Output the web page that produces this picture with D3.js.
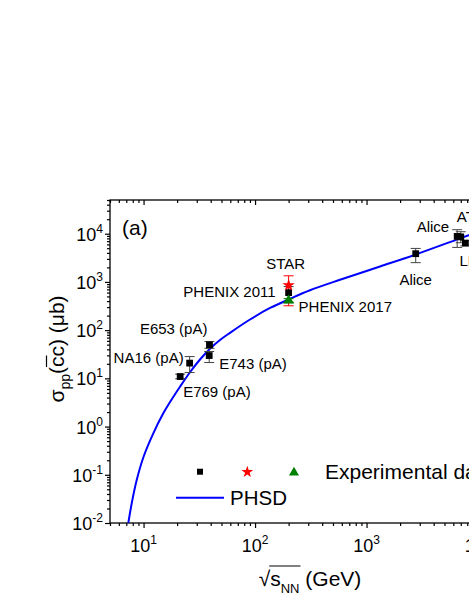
<!DOCTYPE html>
<html>
<head>
<meta charset="utf-8">
<script src="https://cdn.jsdelivr.net/npm/d3@7/dist/d3.min.js"></script>
<style>
    body { margin: 0; background: #fff; }
    svg { display: block; font-family: Arial, "Liberation Sans", Helvetica, sans-serif; }
</style>
</head>
<body>
<svg id="chart" width="469" height="607"></svg>
<script>
// black squares: pA / pp charm cross sections
const sqLabels = ['E769 (pA)', 'NA16 (pA)', 'E743 (pA)', 'E653 (pA)', 'PHENIX 2011', 'Alice', 'Alice', 'ATLAS', 'LHCb'];
const sqEnergy = [21.3, 25.9, 38.8, 39.0, 200, 2760, 6500, 7000, 7700];
const sqSigma = [10.9, 20.7, 29.7, 49.5, 600, 3850, 8800, 8600, 6400];
const sqErrLow = [9.8, 13.2, 21.3, 42, 370, 2510, 5200, 6500, 5600];
const sqErrHigh = [12.2, 28.3, 36, 58, 800, 4950, 12100, 11000, 7200];

// STAR (red star)
const starLabels = ['STAR'];
const starEnergy = [200];
const starSigma = [850];
const starErrLow = [320];
const starErrHigh = [1340];

// PHENIX 2017 (green triangle)
const triLabels = ['PHENIX 2017'];
const triEnergy = [200];
const triSigma = [412];
const triErrLow = [380];
const triErrHigh = [450];

// PHSD curve
const phsdEnergy = [7.3, 7.83, 8.68, 10, 12.23, 15.03, 17.27, 21.22, 26.09, 32.08, 39.44, 48.48,
    59.61, 90.1, 136.2, 200, 311, 578, 1320, 2760, 6437, 12805, 20000];
const phsdSigma = [0.01, 0.0256, 0.0779, 0.237, 0.725, 1.88, 3.23, 6.71, 13.4, 24.6, 41.2, 62.4,
    88.0, 166, 288, 432, 670, 1107, 2088, 3703, 7545, 13450, 19700];

const xMajor = [10, 100, 1000, 10000];
const yMajor = [0.01, 0.1, 1, 10, 100, 1000, 10000];

// label placement relative to the marker (layout only)
const sqLabelPos = [
    {dx: 3, dy: 20, anchor: 'start'},
    {dx: -6, dy: 0, anchor: 'end'},
    {dx: 10, dy: 13, anchor: 'start'},
    {dx: -2, dy: -11, anchor: 'end'},
    {dx: -13, dy: 4, anchor: 'end'},
    {dx: 0, dy: 31, anchor: 'middle'},
    {dx: -8, dy: -4, anchor: 'end'},
    {dx: -4, dy: -15, anchor: 'start'},
    {dx: -6, dy: 23, anchor: 'start'}
];

let svg = d3.select('#chart');
let plotLeft = 110, plotTop = 200, plotBottom = 523;

let x = d3.scaleLog().domain([5, 20000]).range([plotLeft, 511.6]);
let y = d3.scaleLog().domain([0.01, 50000]).range([plotBottom, plotTop]);
let plotRight = x.range()[1];

function minors(domain) {
    let out = [];
    for (let e = -3; e <= 5; e++) {
        for (let k = 2; k <= 9; k++) {
            let v = k * Math.pow(10, e);
            if (v >= domain[0] * 0.999 && v <= domain[1] * 1.001) out.push(v);
        }
    }
    return out;
}

// frame
svg.append('rect')
    .attr('x', plotLeft).attr('y', plotTop)
    .attr('width', plotRight - plotLeft).attr('height', plotBottom - plotTop)
    .attr('fill', 'none').attr('stroke', '#000').attr('stroke-width', 1.3);

function addAxis(axis, transform) {
    let g = svg.append('g').attr('transform', transform).call(axis);
    g.select('.domain').remove();
    g.selectAll('line').attr('stroke', '#000').attr('stroke-width', 1.2);
    g.selectAll('text').remove();
    return g;
}

// bottom (outward), top (inward), left (outward)
addAxis(d3.axisBottom(x).tickValues(xMajor).tickSize(5), `translate(0,${plotBottom})`);
addAxis(d3.axisBottom(x).tickValues(minors(x.domain())).tickSize(3), `translate(0,${plotBottom})`);
addAxis(d3.axisBottom(x).tickValues(xMajor).tickSize(5), `translate(0,${plotTop})`);
addAxis(d3.axisBottom(x).tickValues(minors(x.domain())).tickSize(3), `translate(0,${plotTop})`);
addAxis(d3.axisLeft(y).tickValues(yMajor).tickSize(5), `translate(${plotLeft},0)`);
addAxis(d3.axisLeft(y).tickValues(minors(y.domain())).tickSize(3), `translate(${plotLeft},0)`);

// tick labels 10^n
xMajor.forEach(v => {
    let t = svg.append('text')
        .attr('x', x(v)).attr('y', 552)
        .attr('text-anchor', 'middle')
        .attr('font-size', 18);
    t.append('tspan').text('10');
    t.append('tspan').attr('dy', -8).attr('font-size', 12).text(Math.round(Math.log10(v)));
});
yMajor.forEach(v => {
    let t = svg.append('text')
        .attr('x', 103).attr('y', y(v) + 7)
        .attr('text-anchor', 'end')
        .attr('font-size', 18);
    t.append('tspan').text('10');
    t.append('tspan').attr('dy', -8).attr('font-size', 12).text(Math.round(Math.log10(v)));
});

// axis titles
let xt = svg.append('text')
    .attr('x', 310).attr('y', 586)
    .attr('text-anchor', 'middle')
    .attr('font-size', 21);
xt.append('tspan').text('\u221A');
xt.append('tspan').text('s');
xt.append('tspan').attr('dy', 7).attr('font-size', 13).text('NN');
xt.append('tspan').attr('dy', -7).text(' (GeV)');
let x0 = xt.node().getEndPositionOfChar(0).x;
let x1 = xt.node().getEndPositionOfChar(3).x;
svg.append('line')
    .attr('x1', x0 - 1).attr('x2', x1 + 1)
    .attr('y1', 566).attr('y2', 566)
    .attr('stroke', '#000').attr('stroke-width', 1);

let yg = svg.append('g').attr('transform', 'translate(63.5,349) rotate(-90)');
let yt = yg.append('text')
    .attr('text-anchor', 'middle')
    .attr('font-size', 21);
yt.append('tspan').text('\u03C3');
yt.append('tspan').attr('dy', 6).attr('font-size', 14).text('pp');
yt.append('tspan').attr('dy', -6).text('(cc) (\u03BCb)');
let c0 = yt.node().getStartPositionOfChar(4).x;
let c1 = yt.node().getEndPositionOfChar(4).x;
yg.append('line')
    .attr('x1', c0).attr('x2', c1 + 1)
    .attr('y1', -17).attr('y2', -17)
    .attr('stroke', '#000').attr('stroke-width', 1.2);

svg.append('text')
    .attr('x', 122).attr('y', 235)
    .attr('font-size', 21)
    .text('(a)');

// PHSD curve
svg.append('defs').append('clipPath').attr('id', 'plotClip')
    .append('rect')
    .attr('x', plotLeft).attr('y', plotTop)
    .attr('width', plotRight - plotLeft).attr('height', plotBottom - plotTop);

let line = d3.line()
    .x(d => x(d[0]))
    .y(d => y(d[1]))
    .curve(d3.curveCatmullRom.alpha(0.5));

svg.append('path')
    .datum(d3.zip(phsdEnergy, phsdSigma))
    .attr('clip-path', 'url(#plotClip)')
    .attr('d', line)
    .attr('fill', 'none')
    .attr('stroke', '#0000ff')
    .attr('stroke-width', 2);

// error bars
function errorBars(energy, lo, hi, color) {
    let g = svg.append('g').attr('stroke', color).attr('stroke-width', 1);
    energy.forEach((e, i) => {
        let cx = x(e);
        g.append('line').attr('x1', cx).attr('x2', cx).attr('y1', y(lo[i])).attr('y2', y(hi[i]));
        g.append('line').attr('x1', cx - 5).attr('x2', cx + 5).attr('y1', y(lo[i])).attr('y2', y(lo[i]));
        g.append('line').attr('x1', cx - 5).attr('x2', cx + 5).attr('y1', y(hi[i])).attr('y2', y(hi[i]));
    });
}

errorBars(sqEnergy, sqErrLow, sqErrHigh, '#444');
errorBars(starEnergy, starErrLow, starErrHigh, '#ff0000');
errorBars(triEnergy, triErrLow, triErrHigh, '#008000');

function markers(energy, sigma, type, size, color) {
    svg.append('g').selectAll('path')
        .data(d3.zip(energy, sigma))
        .join('path')
        .attr('transform', d => `translate(${x(d[0])},${y(d[1])})`)
        .attr('d', d3.symbol().type(type).size(size))
        .attr('fill', color);
}

markers(sqEnergy, sqSigma, d3.symbolSquare, 46, '#000');
markers(starEnergy, starSigma, d3.symbolStar, 48, '#ff0000');
markers(triEnergy, triSigma, d3.symbolTriangle, 50, '#008000');

// point labels
let lab = svg.append('g').attr('font-size', 15).attr('fill', '#000');
sqLabels.forEach((s, i) => {
    let p = sqLabelPos[i];
    lab.append('text')
        .attr('x', x(sqEnergy[i]) + p.dx)
        .attr('y', y(sqSigma[i]) + p.dy)
        .attr('text-anchor', p.anchor)
        .text(s);
});
lab.append('text')
    .attr('x', x(starEnergy[0]) - 3).attr('y', y(starSigma[0]) - 16)
    .attr('text-anchor', 'middle')
    .text(starLabels[0]);
lab.append('text')
    .attr('x', x(triEnergy[0]) + 10).attr('y', y(triSigma[0]) + 12)
    .text(triLabels[0]);

// legend
let leg = svg.append('g');
leg.append('path').attr('transform', 'translate(200,471.7)')
    .attr('d', d3.symbol().type(d3.symbolSquare).size(36)).attr('fill', '#000');
leg.append('path').attr('transform', 'translate(247.3,472)')
    .attr('d', d3.symbol().type(d3.symbolStar).size(44)).attr('fill', '#ff0000');
leg.append('path').attr('transform', 'translate(294,472.5)')
    .attr('d', d3.symbol().type(d3.symbolTriangle).size(44)).attr('fill', '#008000');
leg.append('text').attr('x', 325).attr('y', 479).attr('font-size', 21).text('Experimental data');
leg.append('line').attr('x1', 176).attr('x2', 224).attr('y1', 497.7).attr('y2', 497.7)
    .attr('stroke', '#0000ff').attr('stroke-width', 2);
leg.append('text').attr('x', 230).attr('y', 505).attr('font-size', 20.5).text('PHSD');
</script>
</body>
</html>
